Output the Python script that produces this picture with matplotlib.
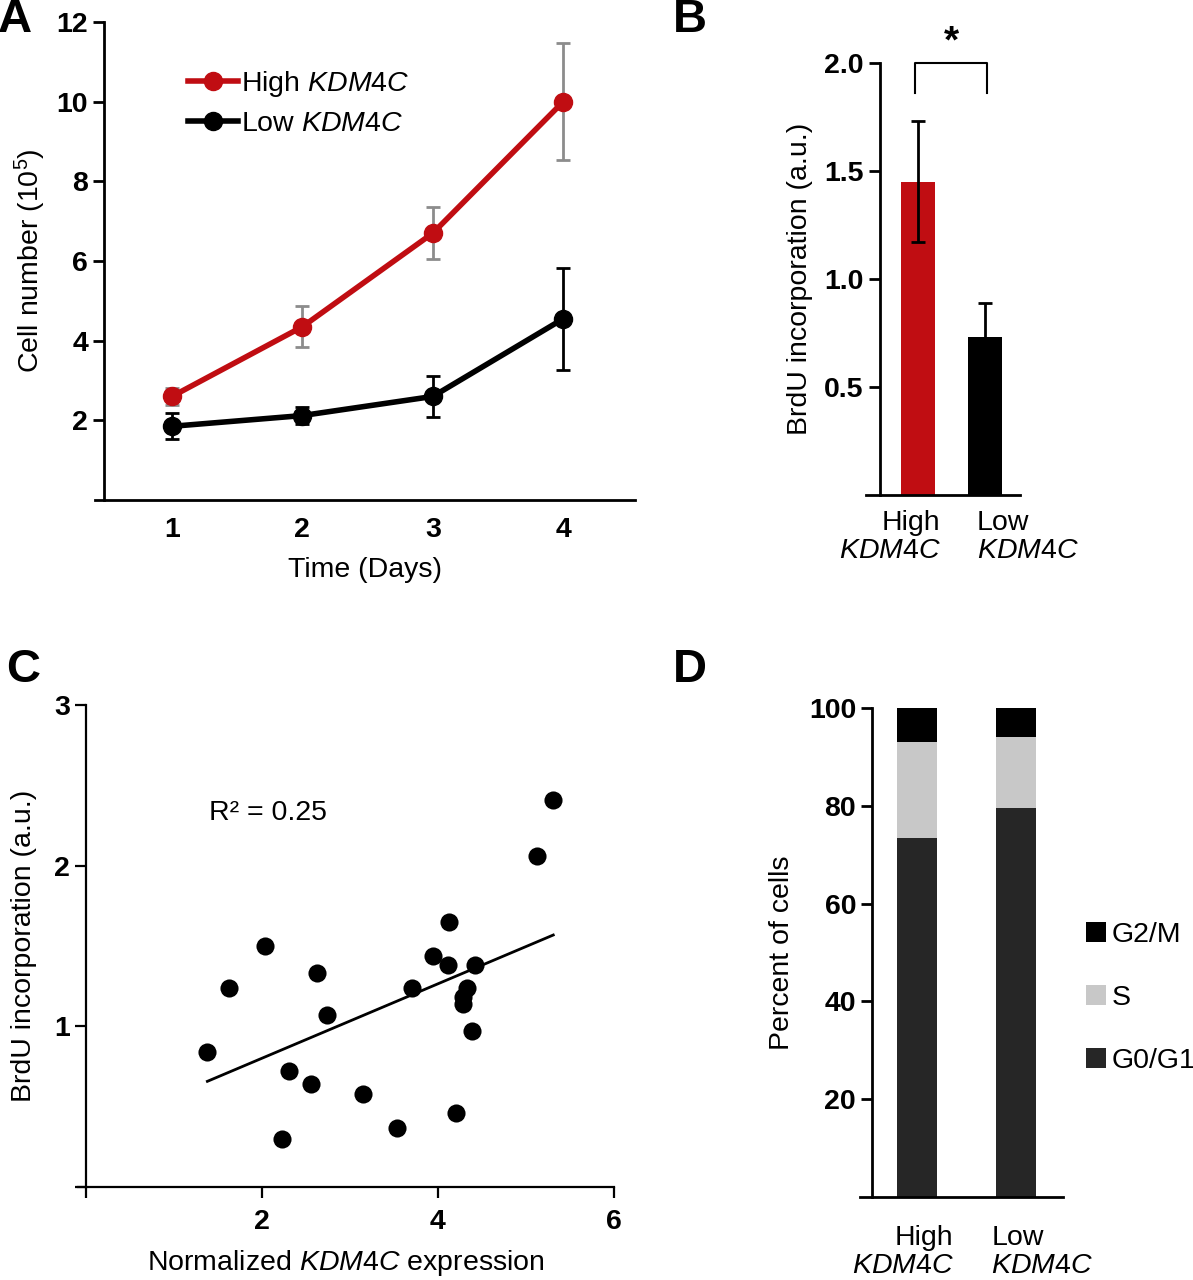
import numpy as np
import matplotlib
matplotlib.use('Agg')
import matplotlib.pyplot as plt
from matplotlib.patches import Patch

plt.rcParams['font.family'] = ['Liberation Sans', 'DejaVu Sans']
plt.rcParams['mathtext.fontset'] = 'custom'
plt.rcParams['mathtext.rm'] = 'Liberation Sans'
plt.rcParams['mathtext.it'] = 'Liberation Sans:italic'
plt.rcParams['mathtext.bf'] = 'Liberation Sans:bold'

RED = '#c00d12'
FS = 20.5

# Panel A: growth curves
days = [1, 2, 3, 4]
high_cells = [2.6, 4.35, 6.7, 10.0]
high_err = [0.22, 0.52, 0.65, 1.47]
low_cells = [1.85, 2.12, 2.6, 4.55]
low_err = [0.33, 0.22, 0.52, 1.28]

# Panel B: BrdU bars
groups = ['High\n$\\mathit{KDM4C}$', 'Low\n$\\mathit{KDM4C}$']
brdu_mean = [1.45, 0.73]
brdu_err = [0.28, 0.16]

# Panel C: scatter
expr = [1.38, 1.62, 2.04, 2.23, 2.31, 2.56, 2.63, 2.74, 3.15, 3.54, 3.70,
        3.94, 4.11, 4.13, 4.20, 4.28, 4.28, 4.33, 4.39, 4.42, 5.12, 5.31]
brdu = [0.84, 1.24, 1.50, 0.30, 0.72, 0.64, 1.33, 1.07, 0.58, 0.37, 1.24,
        1.44, 1.38, 1.65, 0.46, 1.14, 1.18, 1.24, 0.97, 1.38, 2.06, 2.41]

# Panel D: cell cycle
phases = ['G0/G1', 'S', 'G2/M']
phase_colors = ['#262626', '#c8c8c8', '#000000']
g0g1 = [73.5, 79.5]
s_phase = [19.5, 14.5]
g2m = [7.0, 6.0]


def style_axes(ax, lw=2.0):
    for s in ['top', 'right']:
        ax.spines[s].set_visible(False)
    for s in ['left', 'bottom']:
        ax.spines[s].set_linewidth(lw)
    ax.tick_params(width=lw, length=8, labelsize=FS)
    for lab in ax.get_yticklabels():
        lab.set_fontweight('bold')


def group_labels(ax, xs, labels, offsets, drop):
    # left label hangs right-aligned, right label left-aligned (as in the figure)
    for x, lab, off, ha in zip(xs, labels, offsets, ['right', 'left']):
        ax.annotate(lab, xy=(x + off, 0), xycoords=('data', 'axes fraction'),
                    xytext=(0, -drop), textcoords='offset points',
                    ha=ha, va='top', multialignment=ha, fontsize=FS,
                    linespacing=1.1, annotation_clip=False)


fig = plt.figure(figsize=(11.93, 12.8), dpi=100)

# ---- A ----
axA = fig.add_axes([95 / 1193, 1 - 500 / 1280, 540 / 1193, 478 / 1280])
axA.errorbar(days, high_cells, yerr=high_err, fmt='none', ecolor='#8c8c8c',
             elinewidth=2, capsize=5, capthick=2, zorder=1)
axA.errorbar(days, low_cells, yerr=low_err, fmt='none', ecolor='black',
             elinewidth=2, capsize=5, capthick=2, zorder=1)
axA.plot(days, high_cells, '-o', color=RED, lw=4, ms=13, zorder=3,
         label='High $\\mathit{KDM4C}$')
axA.plot(days, low_cells, '-o', color='black', lw=4, ms=13, zorder=3,
         label='Low $\\mathit{KDM4C}$')
axA.set_xlim(0.41, 4.55)
axA.set_ylim(0, 12)
axA.spines['left'].set_position(('data', 0.479))
axA.set_xticks(days)
axA.set_yticks([2, 4, 6, 8, 10, 12])
style_axes(axA)
axA.tick_params(axis='x', length=0, pad=12)
for lab in axA.get_xticklabels():
    lab.set_fontweight('bold')
axA.set_xlabel('Time (Days)', fontsize=FS, labelpad=10)
axA.set_ylabel('Cell number (10$^5$)', fontsize=FS, labelpad=6)
axA.legend(loc='upper left', bbox_to_anchor=(0.125, 0.955), frameon=False,
           fontsize=FS, handlelength=1.75, handletextpad=0.12, labelspacing=0.42)

# ---- B ----
axB = fig.add_axes([866 / 1193, 1 - 495 / 1280, 154 / 1193, 432 / 1280])
xB = np.arange(len(groups))
axB.bar(xB, brdu_mean, width=0.5, color=[RED, 'black'],
        yerr=brdu_err, error_kw=dict(ecolor='black', elinewidth=2, capsize=5, capthick=2))
axB.set_xlim(-0.77, 1.52)
axB.set_ylim(0, 2.0)
axB.spines['left'].set_position(('data', -0.567))
axB.set_yticks([0.5, 1.0, 1.5, 2.0])
axB.set_yticklabels(['0.5', '1.0', '1.5', '2.0'])
axB.set_xticks([])
style_axes(axB)
group_labels(axB, xB, groups, [0.34, -0.12], 11)
axB.set_ylabel('BrdU incorporation (a.u.)', fontsize=FS, labelpad=8)
axB.plot([xB[0] - 0.04, xB[0] - 0.04, xB[1] + 0.03, xB[1] + 0.03],
         [1.86, 2.0, 2.0, 1.86], color='black', lw=1.5, clip_on=False)
axB.text((xB[0] + xB[1]) / 2, 2.01, '*', ha='center', va='bottom',
         fontsize=28, fontweight='bold')

# ---- C ----
axC = fig.add_axes([78 / 1193, 1 - 1187 / 1280, 536 / 1193, 482 / 1280])
axC.scatter(expr, brdu, s=170, color='black', zorder=3, linewidths=0)
slope, intercept = np.polyfit(expr, brdu, 1)
xfit = np.array([min(expr), max(expr)])
axC.plot(xfit, slope * xfit + intercept, color='black', lw=2)
axC.set_xlim(-0.09, 6)
axC.set_ylim(0, 3)
axC.spines['left'].set_position(('data', 0))
axC.set_xticks([0, 2, 4, 6])
axC.set_xticklabels(['', '2', '4', '6'])
axC.set_yticks([0, 1, 2, 3])
axC.set_yticklabels(['', '1', '2', '3'])
style_axes(axC, lw=1.6)
for lab in axC.get_xticklabels():
    lab.set_fontweight('bold')
axC.tick_params(axis='x', pad=8)
axC.set_xlabel('Normalized $\\mathit{KDM4C}$ expression', fontsize=FS, labelpad=9)
axC.set_ylabel('BrdU incorporation (a.u.)', fontsize=FS, labelpad=12)
axC.text(1.4, 2.33, 'R² = 0.25', fontsize=FS, va='center', ha='left')

# ---- D ----
axD = fig.add_axes([860 / 1193, 1 - 1197 / 1280, 203 / 1193, 489 / 1280])
xD = np.arange(2)
bottom = np.zeros(2)
handles = []
for name, vals, col in zip(phases, [g0g1, s_phase, g2m], phase_colors):
    axD.bar(xD, vals, width=0.4, bottom=bottom, color=col)
    bottom += np.array(vals)
    handles.append(Patch(facecolor=col, label=name))
axD.set_xlim(-0.576, 1.475)
axD.set_ylim(0, 100)
axD.spines['left'].set_position(('data', -0.455))
axD.set_yticks([20, 40, 60, 80, 100])
axD.set_xticks([])
style_axes(axD)
group_labels(axD, xD, groups, [0.37, -0.25], 20)
axD.set_ylabel('Percent of cells', fontsize=FS, labelpad=10)
fig.legend(handles=handles[::-1], loc='upper left',
           bbox_to_anchor=(1080 / 1193, 1 - 916 / 1280), frameon=False,
           fontsize=FS, handlelength=0.7, handleheight=0.7,
           handletextpad=0.2, labelspacing=1.3, borderaxespad=0,
           borderpad=0.2)

# panel letters
for letter, (px, py) in zip('ABCD', [(-2, 20), (673, 20), (6, 670), (673, 670)]):
    fig.text(px / 1193, 1 - py / 1280, letter, fontsize=34, fontweight='bold',
             va='center', ha='left')

fig.savefig('out.png', dpi=100)
